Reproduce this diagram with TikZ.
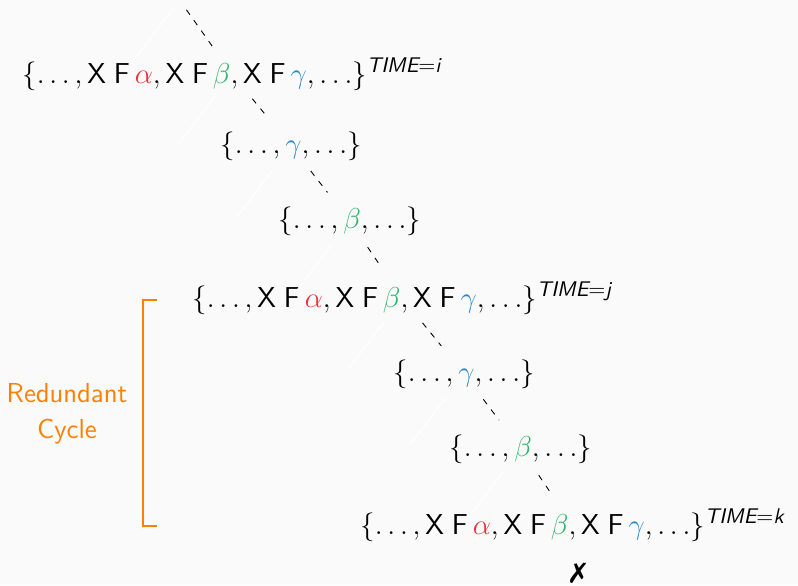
\documentclass[tikz,border=0pt]{standalone}
\usepackage{amsmath}
\usepackage{pifont}
\usetikzlibrary{calc}
\DeclareMathSizes{14.5}{14.5}{10.6}{7.6}
\definecolor{bg}{HTML}{FAFAFA}
\definecolor{ared}{HTML}{E8333C}
\definecolor{bgreen}{HTML}{2BB36B}
\definecolor{cblue}{HTML}{2B87C8}
\definecolor{orng}{HTML}{FF8000}
\newcommand{\xf}{\mathsf{X}\;\mathsf{F}\,}
\newcommand{\tm}[1]{\textsf{\itshape TIME}=\textsf{\itshape #1}}
\newcommand{\bigset}[1]{$\{\ldots,\xf{\color{ared}\alpha},\xf{\color{bgreen}\beta},\xf{\color{cblue}\gamma},\ldots\}^{\tm{#1}}$}
\tikzset{
  setnode/.style={font=\fontsize{14.5}{17}\selectfont, inner sep=0pt, anchor=base west},
  conn/.style={draw, line width=0.45pt, dash pattern=on 3pt off 3.4pt, shorten <=16pt, shorten >=18pt},
  hid/.style={draw=white, line width=0.5pt, shorten <=15pt, shorten >=2pt},
}
\begin{document}
\begin{tikzpicture}[x=0.5pt, y=-0.5pt]
\fill[bg] (0,0) rectangle (798,585);
\useasboundingbox (0,0) rectangle (798,585);
% sets
\node[setnode] (i) at (22,83) {\bigset{i}};
\node[setnode] (s2) at (220,153) {$\{\ldots,{\color{cblue}\gamma},\ldots\}$};
\node[setnode] (s3) at (278,228) {$\{\ldots,{\color{bgreen}\beta},\ldots\}$};
\node[setnode] (j) at (192,307) {\bigset{j}};
\node[setnode] (s5) at (393,381) {$\{\ldots,{\color{cblue}\gamma},\ldots\}$};
\node[setnode] (s6) at (449,456) {$\{\ldots,{\color{bgreen}\beta},\ldots\}$};
\node[setnode] (k) at (360,534) {\bigset{k}};
\node[font=\fontsize{14}{15}\selectfont, inner sep=0pt] (x) at (578,573) {\ding{55}};
% hidden parent and hidden left children
\coordinate (top) at (179.5,0);
\coordinate (h0) at ($(top)+(-57,75)$);
\foreach \n in {i,s2,s3,j,s5,s6}{
  \coordinate (h\n) at ($(\n.center)+(-57,75)$);
}
\draw[hid, shorten <=5pt] (top) -- (h0);
\foreach \n in {i,s2,s3,j,s5,s6}{
  \draw[hid] (\n.center) -- (h\n);
}
% dashed connectors
\draw[conn, shorten <=6pt, shorten >=16pt] (top) -- (i.center);
\draw[conn] (i.center) -- (s2.center);
\draw[conn] (s2.center) -- (s3.center);
\draw[conn] (s3.center) -- (j.center);
\draw[conn] (j.center) -- (s5.center);
\draw[conn] (s5.center) -- (s6.center);
\draw[conn] (s6.center) -- (k.center);
% redundant cycle bracket
\coordinate (bt) at (143,300);
\coordinate (bb) at (143,526);
\draw[orng, line width=1pt] ($(bt)+(14,0)$) -- (bt) -- (bb) -- ($(bb)+(14,0)$);
\node[font=\fontsize{13.7}{18}\selectfont\sffamily, text=orng, align=center, inner sep=0pt] (rc) at (67,414) {Redundant\\Cycle};
\end{tikzpicture}
\end{document}
